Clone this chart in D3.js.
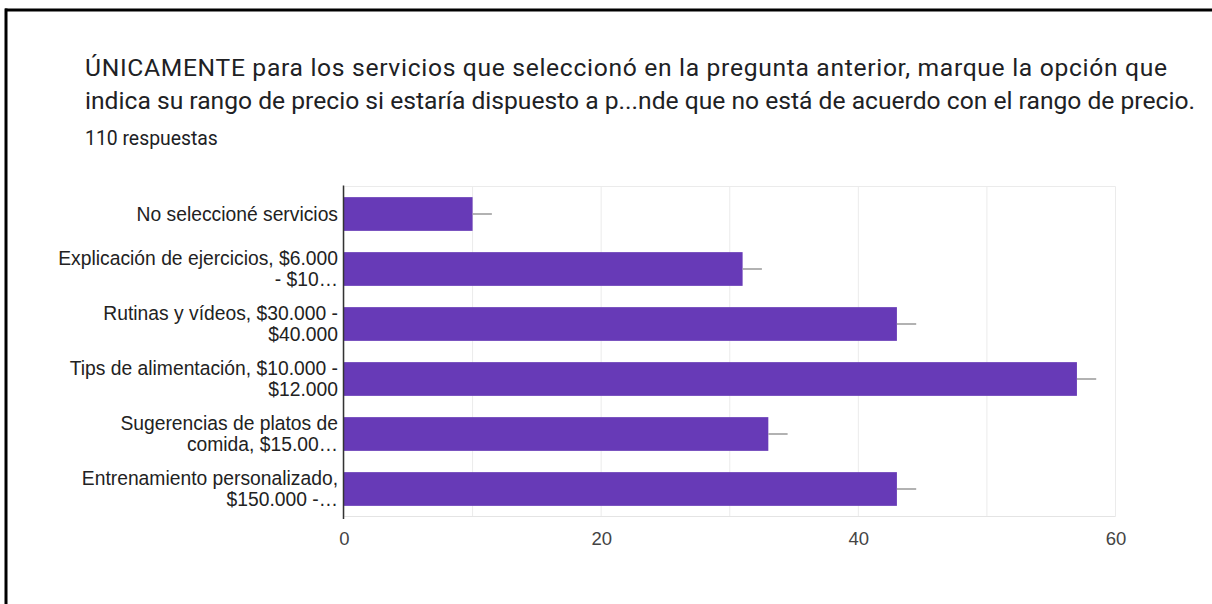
<!DOCTYPE html>
<html>
<head>
<meta charset="utf-8">
<script src="https://cdn.jsdelivr.net/npm/d3@7"></script>
<style>
  html, body { margin: 0; padding: 0; background: #fff; }
  svg { display: block; }
</style>
</head>
<body>
<svg id="chart" width="1212" height="604"></svg>
<script>
// Survey question and response count
const titleLines = [
  "ÚNICAMENTE para los servicios que seleccionó en la pregunta anterior, marque la opción que",
  "indica su rango de precio si estaría dispuesto a p...nde que no está de acuerdo con el rango de precio."
];
const responsesText = "110 respuestas";

// Answer options (wrapped as shown on the axis)
const categoryLines = [
  ["No seleccioné servicios"],
  ["Explicación de ejercicios, $6.000", "- $10…"],
  ["Rutinas y vídeos, $30.000 -", "$40.000"],
  ["Tips de alimentación, $10.000 -", "$12.000"],
  ["Sugerencias de platos de", "comida, $15.00…"],
  ["Entrenamiento personalizado,", "$150.000 -…"]
];
// Number of respondents per option
const counts = [10, 31, 43, 57, 33, 43];
// Upper end of the interval whisker on each bar
const intervalUpper = [11.5, 32.5, 44.5, 58.5, 34.5, 44.5];
// Axis ticks
const axisTicks = [0, 20, 40, 60];
const gridTicks = [0, 10, 20, 30, 40, 50, 60];

const svg = d3.select("#chart");

// Frame lines
svg.append("line").attr("x1", 5).attr("x2", 1212).attr("y1", 10).attr("y2", 10)
  .attr("stroke", "#000").attr("stroke-width", 3);
svg.append("line").attr("x1", 6).attr("x2", 6).attr("y1", 8.5).attr("y2", 604)
  .attr("stroke", "#000").attr("stroke-width", 3);

// Title: both lines share one size, each stretched to its measured line width
const titleFont = "Roboto, 'Noto Sans', Arial, sans-serif";
const titleWidths = [1082, 1110];
const title = svg.append("g").attr("fill", "#202124")
  .style("font-family", titleFont);
const titleTexts = titleLines.map((s, i) =>
  title.append("text").attr("x", 85).attr("y", 76 + i * 33).text(s).style("font-size", "100px"));
const fs = 100 * titleWidths[1] / titleTexts[1].node().getComputedTextLength();
titleTexts.forEach((t, i) => {
  t.style("font-size", fs + "px");
  t.attr("textLength", titleWidths[i]).attr("lengthAdjust", "spacing");
});

// Response count, sized to its line width
const resp = svg.append("text").attr("x", 85).attr("y", 145).attr("fill", "#202124")
  .style("font-family", titleFont).style("font-size", "100px").text(responsesText);
resp.style("font-size", (100 * 133 / resp.node().getComputedTextLength()) + "px");

// Scales
const x = d3.scaleLinear().domain([0, 60]).range([344, 1115.5]);
const y = d3.scaleBand().domain(d3.range(counts.length))
  .range([186.5, 516.5]).paddingInner(0.387).paddingOuter(0.1935);

// Grid
const grid = svg.append("g");
grid.selectAll("line.v").data(gridTicks).join("line")
  .attr("x1", d => x(d)).attr("x2", d => x(d))
  .attr("y1", y.range()[0]).attr("y2", y.range()[1])
  .attr("stroke", "#ebebeb").attr("stroke-width", 1);
grid.append("line").attr("x1", x(0)).attr("x2", x(60))
  .attr("y1", y.range()[0]).attr("y2", y.range()[0]).attr("stroke", "#ebebeb");
grid.append("line").attr("x1", x(0)).attr("x2", x(60))
  .attr("y1", y.range()[1]).attr("y2", y.range()[1]).attr("stroke", "#e4e4e4");

// Bars
svg.append("g").selectAll("rect").data(counts).join("rect")
  .attr("x", x(0))
  .attr("y", (d, i) => y(i))
  .attr("width", d => x(d) - x(0))
  .attr("height", y.bandwidth())
  .attr("fill", "#673ab7");

// Interval whiskers
svg.append("g").selectAll("line").data(counts).join("line")
  .attr("x1", d => x(d))
  .attr("x2", (d, i) => x(intervalUpper[i]))
  .attr("y1", (d, i) => y(i) + y.bandwidth() / 2)
  .attr("y2", (d, i) => y(i) + y.bandwidth() / 2)
  .attr("stroke", "#999").attr("stroke-width", 1.5);

// Baseline axis
svg.append("line").attr("x1", 343.5).attr("x2", 343.5)
  .attr("y1", 185.5).attr("y2", 519).attr("stroke", "#333").attr("stroke-width", 1.5);

// Bottom axis tick labels
const xAxis = d3.axisBottom(x).tickValues(axisTicks).tickSize(0).tickPadding(0);
const gx = svg.append("g").attr("transform", "translate(0,532)").call(xAxis);
gx.select(".domain").remove();
gx.selectAll("text")
  .attr("dy", "0.71em")
  .attr("fill", "#444")
  .style("font-family", "Arial, 'Liberation Sans', sans-serif")
  .style("font-size", "18.5px");

// Category labels
const labelFont = "Arial, 'Liberation Sans', sans-serif";
const lineH = 21;
const labels = svg.append("g").attr("text-anchor", "end").attr("fill", "#222")
  .style("font-family", labelFont).style("font-size", "19.3px");
labels.selectAll("text").data(categoryLines).join("text")
  .attr("x", 338)
  .attr("y", (d, i) => y(i) + y.bandwidth() / 2 - (d.length - 1) * lineH / 2)
  .each(function(lines) {
    d3.select(this).selectAll("tspan").data(lines).join("tspan")
      .attr("x", 338)
      .attr("dy", (l, j) => j === 0 ? "0.36em" : lineH)
      .text(l => l);
  });
</script>
</body>
</html>
